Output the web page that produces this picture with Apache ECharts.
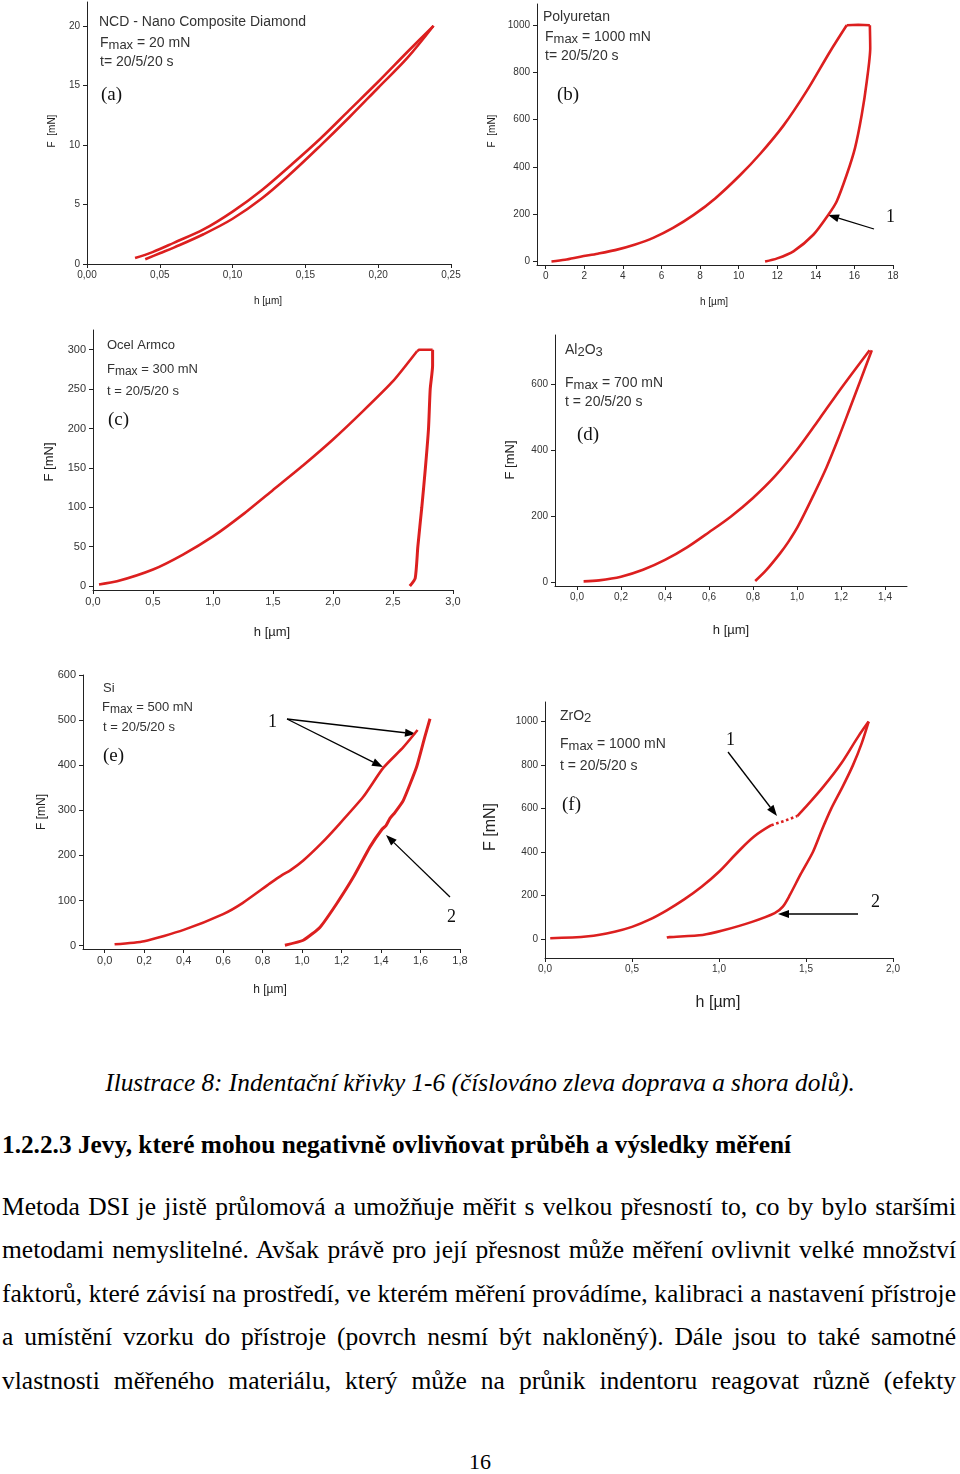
<!DOCTYPE html>
<html><head><meta charset="utf-8">
<script src="https://cdn.jsdelivr.net/npm/echarts@6/dist/echarts.min.js"></script>
<style>
body{margin:0;background:#fff;width:960px;height:1474px;position:relative;overflow:hidden}
#chart{position:absolute;left:0;top:0;width:960px;height:1040px}
.t{position:absolute;font-family:"Liberation Serif","Times New Roman",serif;color:#000;white-space:nowrap;line-height:30px}
.j{left:2px;width:954px;font-size:25.5px;text-align:justify;text-align-last:justify;white-space:normal}
</style></head><body>
<div id="chart"></div>
<div class="t" style="left:0;width:960px;text-align:center;top:1067px;font-size:25.3px;font-style:italic">Ilustrace 8: Indentační křivky 1-6 (číslováno zleva doprava a shora dolů).</div>
<div class="t" style="left:2px;top:1129px;font-size:25.3px;font-weight:bold">1.2.2.3 Jevy, které mohou negativně ovlivňovat průběh a výsledky měření</div>
<div class="t j" style="top:1192px">Metoda DSI je jistě průlomová a umožňuje měřit s velkou přesností to, co by bylo staršími</div>
<div class="t j" style="top:1235px">metodami nemyslitelné. Avšak právě pro její přesnost může měření ovlivnit velké množství</div>
<div class="t j" style="top:1279px">faktorů, které závisí na prostředí, ve kterém měření provádíme, kalibraci a nastavení přístroje</div>
<div class="t j" style="top:1322px">a umístění vzorku do přístroje (povrch nesmí být nakloněný). Dále jsou to také samotné</div>
<div class="t j" style="top:1366px">vlastnosti měřeného materiálu, který může na průnik indentoru reagovat různě (efekty</div>
<div class="t" style="left:0;width:960px;text-align:center;top:1447px;font-size:22px">16</div>
<script>
// ---- data (h [µm], F [mN]) ----
const aLoad = [[0.033,0.5],[0.045,1.0],[0.06,1.8],[0.08,2.9],[0.10,4.4],[0.12,6.2],[0.14,8.3],[0.16,10.5],[0.18,12.9],[0.20,15.3],[0.22,17.8],[0.238,20]];
const aUnload = [[0.238,20],[0.22,17.3],[0.20,14.8],[0.18,12.3],[0.16,9.9],[0.14,7.6],[0.12,5.5],[0.10,3.8],[0.08,2.5],[0.06,1.4],[0.05,0.9],[0.04,0.4]];
const bLoad = [[0.3,0],[1,7],[1.8,20],[2.7,33],[3.6,48],[4.6,71],[5.6,101],[6.6,142],[7.67,197],[8.8,268],[10.07,365],[11.11,455],[12.32,575],[13.53,722],[14.74,889],[15.6,1000]];
const bHold = [[15.6,1000],[16.2,1002],[16.8,1000]];
const bUnload = [[16.8,1000],[16.82,904],[16.64,762],[16.38,621],[16.03,480],[15.6,367],[15.08,254],[14.65,198],[13.87,113],[12.84,43],[12.0,13],[11.37,0]];
const cLoad = [[0.05,2],[0.2,6],[0.5,21],[0.75,40],[1.0,63],[1.25,91],[1.5,122],[1.75,153],[2.0,186],[2.25,222],[2.5,260],[2.7,298]];
const cHold = [[2.7,298],[2.72,300],[2.83,300]];
const cUnload = [[2.83,300],[2.83,280],[2.81,250],[2.796,200],[2.77,150],[2.74,100],[2.707,50],[2.685,10],[2.64,0]];
const dLoad = [[0.03,3],[0.1,6],[0.2,17],[0.3,38],[0.4,68],[0.5,106],[0.6,152],[0.7,200],[0.8,256],[0.9,322],[1.0,402],[1.1,494],[1.2,588],[1.33,704]];
const dUnload = [[1.34,704],[1.29,615],[1.24,527],[1.19,440],[1.135,350],[1.074,263],[1.006,172],[0.96,122],[0.923,88],[0.86,37],[0.81,4]];
const eLoad = [[0.05,3],[0.2,10],[0.4,35],[0.6,70],[0.7,95],[0.837,138],[0.9,157],[0.94,167],[1.006,189],[1.1,228],[1.175,263],[1.31,330],[1.411,394],[1.513,440],[1.585,478]];
const eUnload = [[1.648,503],[1.62,460],[1.58,396],[1.513,322],[1.47,295],[1.445,282],[1.425,266],[1.405,258],[1.344,219],[1.26,152],[1.175,93],[1.091,41],[1.006,12],[0.913,1]];
const fLoad = [[0.03,5],[0.25,14],[0.4,35],[0.5,57],[0.6,90],[0.7,133],[0.8,183],[0.9,241],[1.0,310],[1.1,394],[1.2,471],[1.3,524]];
const fPopIn = [[1.3,524],[1.38,545],[1.45,566]];
const fLoad2 = [[1.45,566],[1.5,609],[1.6,701],[1.7,805],[1.8,931],[1.86,1000]];
const fUnload = [[1.86,1000],[1.82,900],[1.77,800],[1.71,700],[1.645,600],[1.59,500],[1.539,400],[1.47,300],[1.405,200],[1.367,150],[1.32,120],[1.19,80],[1.02,40],[0.906,20],[0.714,10],[0.7,8]];
// ---- tick labels ----
const aXTicks = [0,0.05,0.10,0.15,0.20,0.25], aYTicks = [0,5,10,15,20];
const bXTicks = [0,2,4,6,8,10,12,14,16,18], bYTicks = [0,200,400,600,800,1000];
const cXTicks = [0,0.5,1.0,1.5,2.0,2.5,3.0], cYTicks = [0,50,100,150,200,250,300];
const dXTicks = [0,0.2,0.4,0.6,0.8,1.0,1.2,1.4], dYTicks = [0,200,400,600];
const eXTicks = [0,0.2,0.4,0.6,0.8,1.0,1.2,1.4,1.6,1.8], eYTicks = [0,100,200,300,400,500,600];
const fXTicks = [0,0.5,1.0,1.5,2.0], fYTicks = [0,200,400,600,800,1000];

const RED = '#dc1f1f';
const fmt = (v,d) => v.toFixed(d).replace('.', ',');
function xAx(gi,min,max,vals,dec,fs){
  return {gridIndex:gi,type:'value',min:min,max:max,splitLine:{show:false},
    axisLine:{onZero:false,lineStyle:{color:'#222',width:1}},
    axisTick:{customValues:vals,length:4,lineStyle:{color:'#222'}},
    axisLabel:{customValues:vals,formatter:v=>fmt(v,dec),fontSize:fs,color:'#333',margin:6,showMinLabel:true,showMaxLabel:true}};
}
function yAx(gi,min,max,vals,fs){
  return {gridIndex:gi,type:'value',min:min,max:max,splitLine:{show:false},
    axisLine:{show:true,onZero:false,lineStyle:{color:'#222',width:1}},
    axisTick:{show:true,customValues:vals,length:4,lineStyle:{color:'#222'}},
    axisLabel:{customValues:vals,formatter:v=>String(v),fontSize:fs,color:'#333',margin:7,showMinLabel:true,showMaxLabel:true}};
}
function curve(gi,data,opt){
  opt = opt||{};
  return {type:'line',xAxisIndex:gi,yAxisIndex:gi,data:data,smooth:opt.smooth===undefined?0.35:opt.smooth,
    symbol:'none',silent:true,animation:false,
    lineStyle:{color:RED,width:opt.w||2.6,type:opt.type||'solid'}};
}
const grids = [
  {left:87,top:2,width:364,height:262},
  {left:537,top:4,width:356,height:261},
  {left:93,top:330,width:360,height:260},
  {left:555,top:335,width:352,height:251},
  {left:83,top:675,width:377,height:274},
  {left:545,top:702,width:348,height:256}
];
const xAxes = [
  xAx(0,0,0.25,aXTicks,2,10), xAx(1,-0.45,18,bXTicks,0,10), xAx(2,0,3,cXTicks,1,11),
  xAx(3,-0.1,1.5,dXTicks,1,10), xAx(4,-0.11,1.8,eXTicks,1,11), xAx(5,0,2,fXTicks,1,10)
];
const yAxes = [
  yAx(0,0,22,aYTicks,10), yAx(1,-15,1090,bYTicks,10), yAx(2,-5,325,cYTicks,11),
  yAx(3,-11,750,dYTicks,10), yAx(4,-7.4,600,eYTicks,11), yAx(5,-86,1090,fYTicks,10)
];
const series = [
  curve(0,aLoad),curve(0,aUnload),
  curve(1,bLoad,{smooth:0.3}),curve(1,bHold,{smooth:false}),curve(1,bUnload,{smooth:0.25}),
  curve(2,cLoad,{smooth:0.2}),curve(2,cHold,{smooth:false}),curve(2,cUnload,{smooth:0.2,w:3}),
  curve(3,dLoad,{smooth:0.3}),curve(3,dUnload,{smooth:0.3}),
  curve(4,eLoad,{smooth:0.2}),curve(4,eUnload,{smooth:0.15,w:3}),
  curve(5,fLoad),curve(5,fPopIn,{type:'dotted',smooth:false}),curve(5,fLoad2),curve(5,fUnload,{smooth:0.25})
];
// ---- annotations ----
const SANS = 'Liberation Sans';
const SERIF = 'Liberation Serif';
function txt(x,y,s,fs){
  return {type:'text',x:x,y:y,silent:true,style:{text:s,fontSize:fs,fontFamily:SANS,fill:'#333',verticalAlign:'middle',align:'left'}};
}
function rich(x,y,s,fs,sub){
  return {type:'text',x:x,y:y,silent:true,style:{text:s,fontFamily:SANS,fill:'#333',verticalAlign:'middle',align:'left',
    rich:{a:{fontSize:fs,fontFamily:SANS,fill:'#333',lineHeight:fs+2,verticalAlign:'top'},
          b:{fontSize:fs-1,fontFamily:SANS,fill:'#333',lineHeight:fs+2,verticalAlign:'bottom',padding:[sub,0,0,0]}}}};
}
function rot(x,y,s,fs){
  return {type:'text',x:x,y:y,rotation:Math.PI/2,silent:true,style:{text:s,fontSize:fs,fontFamily:SANS,fill:'#222',align:'center',verticalAlign:'middle'}};
}
function hname(x,y,s,fs){
  return {type:'text',x:x,y:y,silent:true,style:{text:s,fontSize:fs,fontFamily:SANS,fill:'#222',align:'center',verticalAlign:'middle'}};
}
function serif(x,y,s,fs){
  return {type:'text',x:x,y:y,silent:true,style:{text:s,fontSize:fs,fontFamily:SERIF,fill:'#111',verticalAlign:'middle',align:'left'}};
}
function arrow(x1,y1,x2,y2){
  const a=Math.atan2(y2-y1,x2-x1),L=11,W=4;
  const bx=x2-L*Math.cos(a),by=y2-L*Math.sin(a),px=-Math.sin(a)*W,py=Math.cos(a)*W;
  return [{type:'line',silent:true,shape:{x1:x1,y1:y1,x2:bx,y2:by},style:{stroke:'#000',lineWidth:1.3}},
          {type:'polygon',silent:true,shape:{points:[[x2,y2],[bx+px,by+py],[bx-px,by-py]]},style:{fill:'#000'}}];
}
const graphic = [].concat(
  // (a)
  [txt(99,22,'NCD - Nano Composite Diamond',14), rich(100,44,'{a|F}{b|max}{a| = 20 mN}',14,3), txt(100,62,'t= 20/5/20 s',14),
   serif(101,95,'(a)',19), rot(52,131,'F  [mN]',10), hname(268,301,'h [µm]',10)],
  // (b)
  [txt(543,17,'Polyuretan',14), rich(545,38,'{a|F}{b|max}{a| = 1000 mN}',14,3), txt(545,56,'t= 20/5/20 s',14),
   serif(557,95,'(b)',19), serif(886,217,'1',18), rot(492,131,'F  [mN]',10), hname(714,302,'h [µm]',10)],
  arrow(874,229,828,215),
  // (c)
  [txt(107,345,'Ocel Armco',13), rich(107,370,'{a|F}{b|max}{a| = 300 mN}',13,7), txt(107,391,'t = 20/5/20 s',13),
   serif(108,420,'(c)',19), rot(49,462,'F [mN]',13), hname(272,632,'h [µm]',13)],
  // (d)
  [rich(565,351,'{a|Al}{b|2}{a|O}{b|3}',14,5), rich(565,384,'{a|F}{b|max}{a| = 700 mN}',14,6), txt(565,402,'t = 20/5/20 s',14),
   serif(577,435,'(d)',19), rot(510,460,'F [mN]',13), hname(731,630,'h [µm]',13)],
  // (e)
  [txt(103,688,'Si',13), rich(102,708,'{a|F}{b|max}{a| = 500 mN}',13,3), txt(103,727,'t = 20/5/20 s',13),
   serif(103,756,'(e)',19), serif(268,722,'1',18), serif(447,917,'2',18), rot(42,812,'F [mN]',12), hname(270,990,'h [µm]',12)],
  arrow(287,719,416,734), arrow(287,719,383,767), arrow(450,897,386,835),
  // (f)
  [rich(560,717,'{a|ZrO}{b|2}',14,6), rich(560,745,'{a|F}{b|max}{a| = 1000 mN}',14,7), txt(560,766,'t = 20/5/20 s',14),
   serif(562,805,'(f)',19), serif(726,740,'1',18), serif(871,902,'2',18), rot(491,827,'F [mN]',16), hname(718,1003,'h [µm]',16)],
  arrow(728,752,777,816), arrow(858,914,778,914)
);
const chart = echarts.init(document.getElementById('chart'),null,{renderer:'canvas'});
chart.setOption({animation:false,textStyle:{fontFamily:SANS},grid:grids,xAxis:xAxes,yAxis:yAxes,series:series,graphic:graphic});
</script>
</body></html>
